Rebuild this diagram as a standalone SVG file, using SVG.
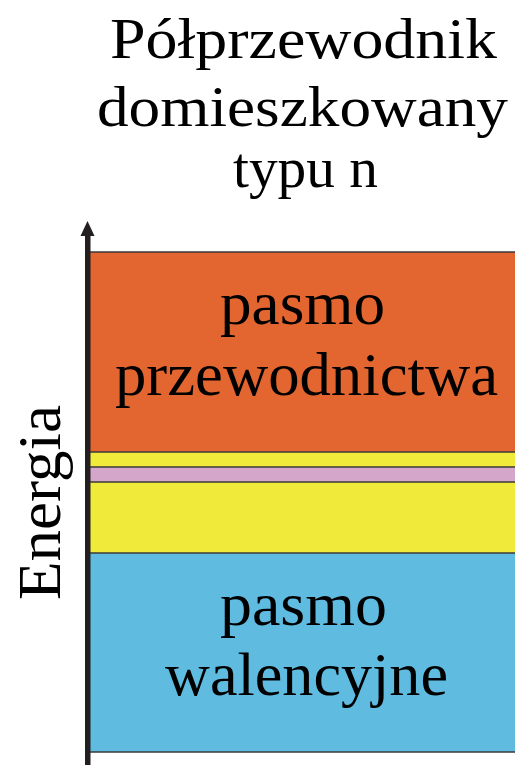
<svg xmlns="http://www.w3.org/2000/svg" width="515" height="765" viewBox="0 0 515 765">
<style>
.t{font-family:"Liberation Serif","Times New Roman",serif;fill:#000;}
.title{font-size:58px;}
.lab{font-size:62px;}
.band{stroke:none;}
.sep{stroke:#3a3a3a;stroke-width:1.6;}
</style>
<rect width="515" height="765" fill="#fff"/>
<g id="title">
<text class="t title" x="110" y="58" textLength="387" lengthAdjust="spacingAndGlyphs">Półprzewodnik</text>
<text class="t title" x="97" y="126" textLength="411" lengthAdjust="spacingAndGlyphs">domieszkowany</text>
<text class="t title" x="233" y="187" textLength="145" lengthAdjust="spacingAndGlyphs">typu n</text>
</g>
<g id="conduction-band">
<rect class="band" x="90" y="252" width="425" height="200" fill="#E3652F"/>
<text class="t lab" x="220" y="324" textLength="165" lengthAdjust="spacingAndGlyphs">pasmo</text>
<text class="t lab" x="115" y="395" textLength="383" lengthAdjust="spacingAndGlyphs">przewodnictwa</text>
</g>
<g id="gap-upper">
<rect class="band" x="90" y="452" width="425" height="15" fill="#F0EB3A"/>
</g>
<g id="donor-level">
<rect class="band" x="90" y="467" width="425" height="15" fill="#D4A6C9"/>
</g>
<g id="gap-lower">
<rect class="band" x="90" y="482" width="425" height="71" fill="#F0EB3A"/>
</g>
<g id="valence-band">
<rect class="band" x="90" y="553" width="425" height="199" fill="#5FBBE0"/>
<text class="t lab" x="220" y="625" textLength="167" lengthAdjust="spacingAndGlyphs">pasmo</text>
<text class="t lab" x="165" y="695" textLength="283" lengthAdjust="spacingAndGlyphs">walencyjne</text>
</g>
<g id="separators">
<line class="sep" x1="90" y1="252" x2="515" y2="252"/>
<line class="sep" x1="90" y1="452" x2="515" y2="452"/>
<line class="sep" x1="90" y1="467" x2="515" y2="467"/>
<line class="sep" x1="90" y1="482" x2="515" y2="482"/>
<line class="sep" x1="90" y1="553" x2="515" y2="553"/>
<line class="sep" x1="90" y1="752" x2="515" y2="752" stroke="#2E5C6E"/>
</g>
<g id="connectors">
<rect x="85" y="234" width="5.5" height="531" fill="#231F20"/>
<polygon points="87.5,221 80.5,236 94.5,236" fill="#231F20"/>
</g>
<g id="axis-label">
<text class="t lab" transform="translate(60,600) rotate(-90)" x="0" y="0" textLength="195" lengthAdjust="spacingAndGlyphs">Energia</text>
</g>
</svg>
